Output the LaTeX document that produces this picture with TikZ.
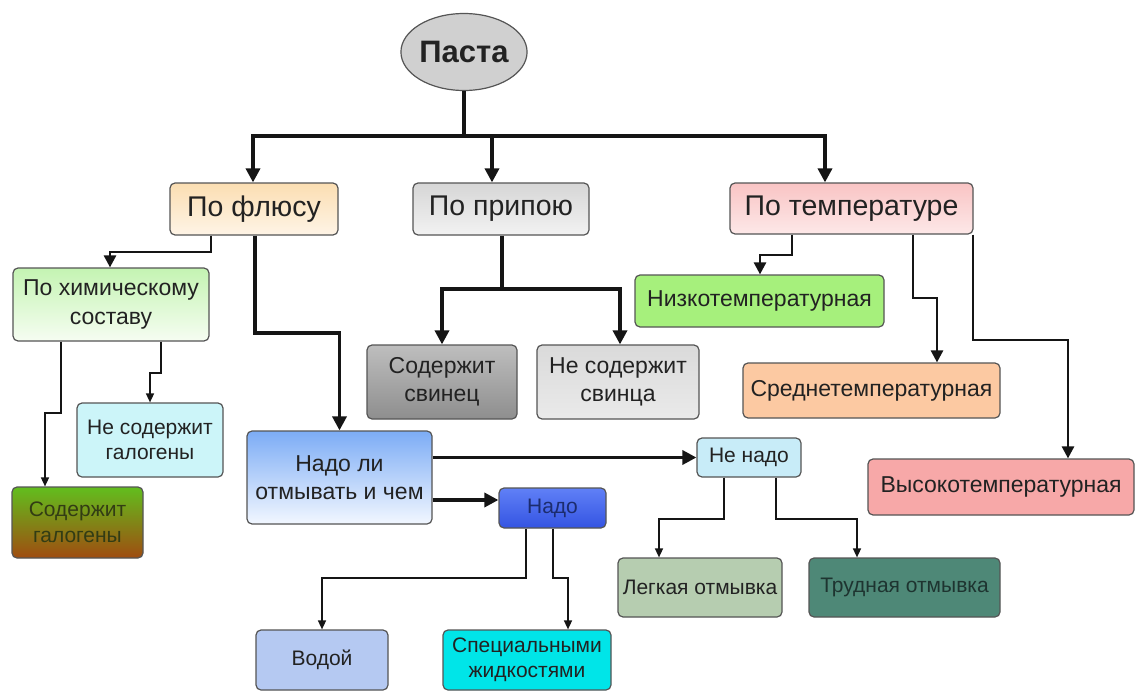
\documentclass[tikz,border=0pt]{standalone}
\usepackage{fontspec}
\setmainfont{Liberation Sans}
\usetikzlibrary{arrows.meta,shapes.geometric,calc}
\definecolor{txt}{HTML}{222222}
\definecolor{edge}{HTML}{555555}
\definecolor{ln}{HTML}{151515}
\begin{document}
\begin{tikzpicture}[x=1pt,y=-1pt,
  box/.style={draw=edge, line width=1.2pt, rounded corners=5pt, align=center, text=txt, inner sep=0pt},
  fbig/.style={font=\fontsize{28.5}{32}\selectfont},
  fmed/.style={font=\fontsize{23}{28.5}\selectfont},
  fsml/.style={font=\fontsize{21}{25.5}\selectfont},
  thk/.style={draw=ln, line width=3.4pt},
  mid/.style={draw=ln, line width=2.6pt},
  thn/.style={draw=ln, line width=1.5pt},
  tipB/.style={-{Triangle[length=14pt,width=14pt]}},
  tipM/.style={-{Triangle[length=12pt,width=12pt]}},
  tipS/.style={-{Triangle[length=9pt,width=8pt]}}
]
\useasboundingbox (0,0) rectangle (1136,693);
\fill[white] (0,0) rectangle (1136,693);

% nodes
\node[ellipse, draw=edge, line width=1.2pt, fill={rgb,255:red,208;green,208;blue,208}, minimum width=122pt, minimum height=77pt, inner sep=0pt, font=\fontsize{31}{35}\selectfont\bfseries, text=txt] (pasta) at (464,52) {Паста};

\node[box, fbig, minimum width=168pt, minimum height=52pt, top color={rgb,255:red,251;green,222;blue,178}, bottom color={rgb,255:red,254;green,244;blue,230}] (flux) at (254,209) {По флюсу};
\node[box, fbig, minimum width=176pt, minimum height=52pt, top color={rgb,255:red,214;green,214;blue,214}, bottom color={rgb,255:red,242;green,242;blue,242}] (pripoy) at (501,209) {По припою};
\node[box, fbig, minimum width=243pt, minimum height=51pt, top color={rgb,255:red,249;green,196;blue,196}, bottom color={rgb,255:red,253;green,232;blue,232}] (temp) at (851.5,208.5) {По температуре};

\node[box, fmed, minimum width=196pt, minimum height=73pt, top color={rgb,255:red,196;green,244;blue,178}, bottom color={rgb,255:red,246;green,253;blue,242}] (chem) at (111,304.5) {По химическому\\составу};
\node[box, fsml, minimum width=146pt, minimum height=74pt, fill={rgb,255:red,204;green,245;blue,249}] (netgal) at (150,440) {Не содержит\\галогены};
\node[box, fsml, minimum width=131pt, minimum height=71pt, top color={rgb,255:red,98;green,190;blue,30}, bottom color={rgb,255:red,160;green,76;blue,16}, text={rgb,255:red,50;green,60;blue,20}] (gal) at (77.5,522.5) {Содержит\\галогены};

\node[box, fmed, minimum width=185pt, minimum height=93pt, top color={rgb,255:red,124;green,172;blue,245}, bottom color={rgb,255:red,242;green,247;blue,255}] (nadoli) at (339.5,477.5) {Надо ли\\отмывать и чем};

\node[box, fmed, minimum width=150pt, minimum height=74pt, top color={rgb,255:red,190;green,190;blue,190}, bottom color={rgb,255:red,142;green,142;blue,142}] (svinec) at (442,382) {Содержит\\свинец};
\node[box, fmed, minimum width=162pt, minimum height=74pt, top color={rgb,255:red,218;green,218;blue,218}, bottom color={rgb,255:red,234;green,234;blue,234}] (nesvinca) at (618,382) {Не содержит\\свинца};

\node[box, fmed, minimum width=249pt, minimum height=52pt, fill={rgb,255:red,166;green,240;blue,124}] (nizko) at (759.5,301) {Низкотемпературная};
\node[box, fmed, minimum width=257pt, minimum height=55pt, fill={rgb,255:red,252;green,201;blue,162}] (sredne) at (871.5,390.5) {Среднетемпературная};
\node[box, fmed, minimum width=266pt, minimum height=56pt, fill={rgb,255:red,247;green,168;blue,168}] (vysoko) at (1001,487) {Высокотемпературная};

\node[box, fsml, minimum width=104pt, minimum height=39pt, fill={rgb,255:red,200;green,236;blue,248}] (nenado) at (749,457.5) {Не надо};
\node[box, fsml, minimum width=107pt, minimum height=40pt, top color={rgb,255:red,96;green,128;blue,246}, bottom color={rgb,255:red,52;green,84;blue,226}, text={rgb,255:red,28;green,44;blue,110}] (nado) at (552.5,508) {Надо};

\node[box, fsml, minimum width=132pt, minimum height=60pt, fill={rgb,255:red,181;green,201;blue,242}] (vodoy) at (322,660) {Водой};
\node[box, fsml, minimum width=168pt, minimum height=60pt, fill={rgb,255:red,0;green,229;blue,232}] (spec) at (527,660) {Специальными\\жидкостями};
\node[box, fsml, minimum width=164pt, minimum height=59pt, fill={rgb,255:red,182;green,205;blue,176}] (legk) at (700,587.5) {Легкая отмывка};
\node[box, fsml, minimum width=191pt, minimum height=59pt, fill={rgb,255:red,78;green,136;blue,119}, text={rgb,255:red,30;green,52;blue,48}] (trud) at (904.5,587.5) {Трудная отмывка};

% junction coordinates
\coordinate (tL) at (253,136);
\coordinate (tM) at (492,136);
\coordinate (tR) at (825,136);
\coordinate (fc1) at (211,252); \coordinate (fc2) at (110,252);
\coordinate (fn) at (255,333);
\coordinate (cn1) at (161,373); \coordinate (cn2) at (150,373);
\coordinate (cg1) at (61,413); \coordinate (cg2) at (45,413);
\coordinate (pj) at (502,289); \coordinate (pjL) at (442,289); \coordinate (pjR) at (620,289);
\coordinate (tn1) at (792,255); \coordinate (tn2) at (760,255);
\coordinate (ts1) at (913,298); \coordinate (ts2) at (937,298);
\coordinate (tv1) at (973,340); \coordinate (tv2) at (1068,340);
\coordinate (nd) at (0,500);
\coordinate (nv1) at (526,578); \coordinate (nv2) at (322,578);
\coordinate (ns1) at (553,578); \coordinate (ns2) at (568,578);
\coordinate (nl1) at (724,519); \coordinate (nl2) at (659,519);
\coordinate (nt1) at (776,519); \coordinate (nt2) at (857,519);

% connectors
\draw[thk] (pasta.south) -- (pasta.south |- tL);
\draw[thk, line cap=rect] (tL) -- (tR);
\draw[thk, tipB] (tL) -- (tL |- flux.north);
\draw[thk, tipB] (tM) -- (tM |- pripoy.north);
\draw[thk, tipB] (tR) -- (tR |- temp.north);

\draw[mid, tipM] (flux.south -| fc1) -- (fc1) -- (fc2) -- (fc2 |- chem.north);
\draw[thk, tipB] (flux.south -| fn) -- (fn) -| (nadoli.north);

\draw[thn, tipS] (chem.south -| cn1) -- (cn1) -- (cn2) -- (cn2 |- netgal.north);
\draw[thn, tipS] (chem.south -| cg1) -- (cg1) -- (cg2) -- (cg2 |- gal.north);

\draw[thk] (pripoy.south -| pj) -- (pj);
\draw[thk, line cap=rect] (pjL) -- (pjR);
\draw[thk, tipB] (pjL) -- (pjL |- svinec.north);
\draw[thk, tipB] (pjR) -- (pjR |- nesvinca.north);

\draw[mid, tipM] (temp.south -| tn1) -- (tn1) -- (tn2) -- (tn2 |- nizko.north);
\draw[mid, tipM] (temp.south -| ts1) -- (ts1) -- (ts2) -- (ts2 |- sredne.north);
\draw[mid, tipM] (temp.south -| tv1) -- (tv1) -- (tv2) -- (tv2 |- vysoko.north);

\draw[thk, tipB] (nadoli.east |- nenado.west) -- (nenado.west);
\draw[thk, tipB] (nadoli.east |- nd) -- (nado.west |- nd);

\draw[thn, tipS] (nado.south -| nv1) -- (nv1) -- (nv2) -- (nv2 |- vodoy.north);
\draw[thn, tipS] (nado.south -| ns1) -- (ns1) -- (ns2) -- (ns2 |- spec.north);
\draw[thn, tipS] (nenado.south -| nl1) -- (nl1) -- (nl2) -- (nl2 |- legk.north);
\draw[thn, tipS] (nenado.south -| nt1) -- (nt1) -- (nt2) -- (nt2 |- trud.north);
\end{tikzpicture}
\end{document}
